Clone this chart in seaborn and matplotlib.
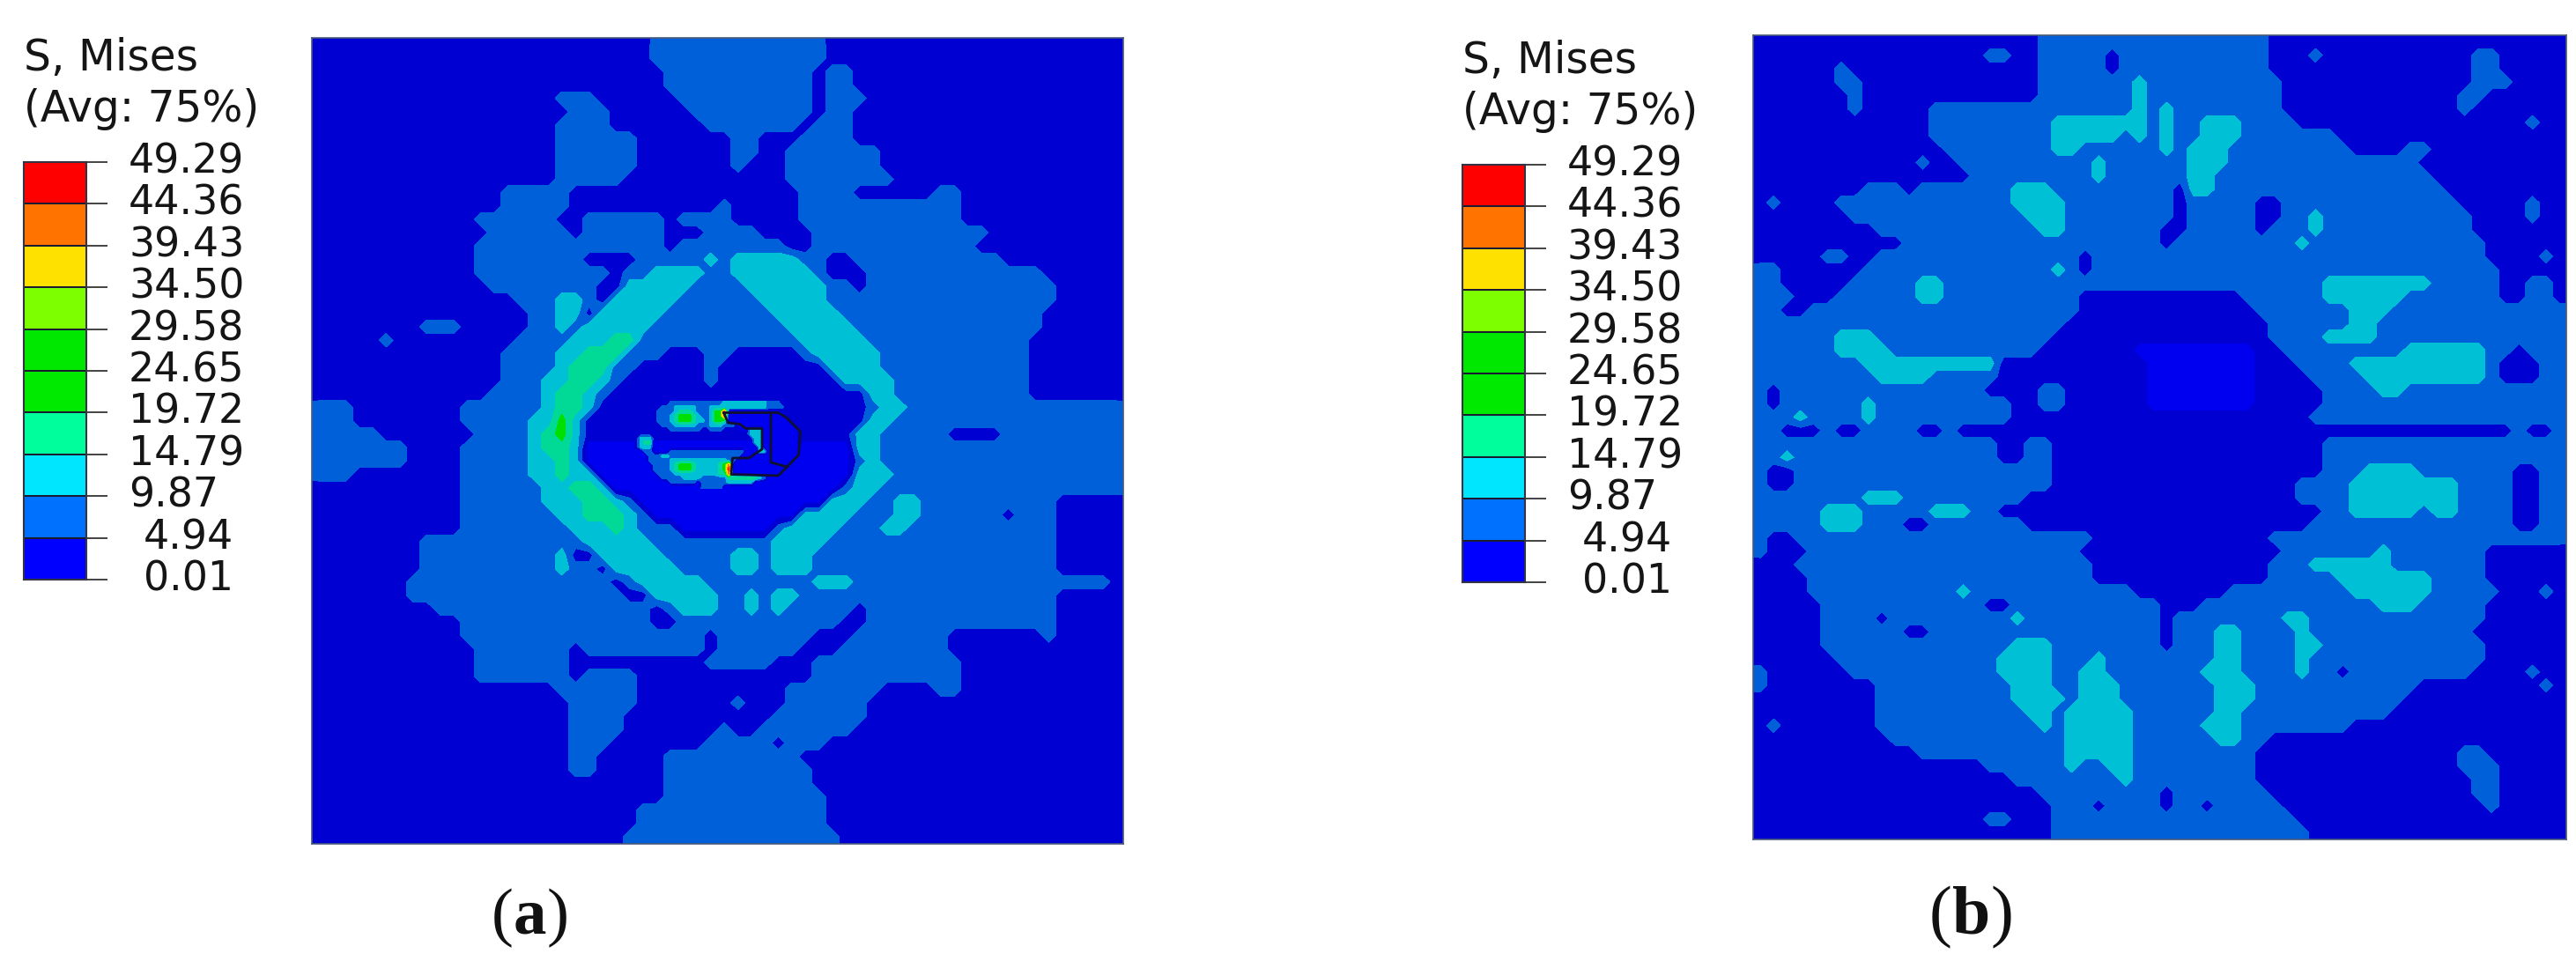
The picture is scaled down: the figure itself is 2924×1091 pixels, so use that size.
import matplotlib
matplotlib.use("Agg")
import matplotlib.pyplot as plt
import numpy as np
import seaborn as sns
from matplotlib.colors import ListedColormap

W, H = 2924, 1091

# legend of the stress field
LEVEL_LABELS = ["49.29", "44.36", "39.43", "34.50", "29.58", "24.65",
                "19.72", "14.79", "9.87", "4.94", "0.01"]
LABEL_INDENT = [0, 0, 0, 0, 0, 0, 0, 0, 0, 17, 17]
LEGEND_COLORS = ["#ff0000", "#ff7300", "#ffe100", "#7dff00", "#00e800",
                 "#00ea00", "#00ff9c", "#00e6ff", "#0070ff", "#0000ff"]

# colour of each band in the field, 9 is the bright blue inner zone
FIELD_COLORS = ["#0000d2", "#0060da", "#00c0d6", "#00da96", "#00e000",
                "#80e000", "#ffe100", "#ff7300", "#ff0000", "#0000f0"]

# contour bands, run length per row ("cells:band")
FIELD_A = [
    "25:0 13:1", "25:0 13:1", "26:0 11:1 1:0 2:1", "26:0 11:1 1:0 2:1",
    "18:0 3:1 6:0 10:1 1:0 3:1", "19:0 3:1 6:0 9:1 1:0 2:1",
    "18:0 4:1 7:0 7:1 1:0 3:1", "18:0 6:1 7:0 2:1 3:0 4:1",
    "18:0 6:1 7:0 2:1 2:0 7:1", "18:0 6:1 7:0 1:1 3:0 7:1",
    "18:0 5:1 12:0 8:1", "14:0 5:1 17:0 4:1 6:0 2:1",
    "14:0 5:1 11:0 1:1 5:0 12:1", "12:0 6:1 2:0 6:1 1:0 4:1 5:0 12:1",
    "13:0 6:1 1:0 6:1 3:0 4:1 4:0 13:1", "12:0 14:1 1:0 8:1 2:0 12:1",
    "12:0 8:1 4:0 5:1 1:2 1:1 5:2 2:1 2:0 11:1",
    "12:0 10:1 1:0 2:1 4:2 2:1 6:2 1:1 3:0 13:1",
    "13:0 8:1 2:0 5:2 4:1 6:2 2:1 1:0 14:1",
    "15:0 3:1 2:2 1:1 1:0 5:2 6:1 5:2 17:1",
    "16:0 2:1 2:2 1:0 5:2 8:1 5:2 15:1",
    "8:0 3:1 5:0 2:1 1:2 1:1 5:2 10:1 5:2 14:1",
    "5:0 1:1 9:0 4:1 3:2 2:3 12:1 5:2 12:1",
    "14:0 4:1 2:2 3:3 3:1 3:0 2:1 5:0 1:1 5:2 11:1",
    "14:0 4:1 1:2 3:3 2:1 5:0 1:1 8:0 4:2 11:1",
    "14:0 3:1 2:2 2:3 1:2 1:1 6:0 1:1 9:0 4:2 10:1",
    "13:0 4:1 1:2 2:3 1:2 1:1 19:0 2:2 10:1",
    "3:1 8:0 6:1 1:2 2:3 1:2 20:0 1:1 2:2 16:1",
    "3:1 8:0 5:1 2:2 1:4 1:2 21:0 2:2 17:1",
    "5:1 7:0 4:1 1:2 1:3 1:4 1:2 20:0 2:2 5:1 4:0 9:1",
    "7:1 4:0 5:1 1:2 2:3 1:2 20:9 2:2 18:1",
    "7:1 4:0 5:1 2:2 1:3 1:2 20:9 1:1 1:2 18:1",
    "3:1 8:0 5:1 2:2 1:3 2:2 19:9 3:2 17:1",
    "11:0 6:1 2:2 2:3 1:2 17:9 1:1 2:2 18:1",
    "11:0 6:1 3:2 2:3 1:2 1:1 14:9 3:2 2:1 2:2 10:1",
    "11:0 7:1 2:2 3:3 1:2 1:1 11:9 4:2 3:1 2:2 6:1 1:0 3:1",
    "11:0 8:1 3:2 1:3 1:2 3:1 7:9 1:1 4:2 3:1 2:2 11:1",
    "8:0 12:1 5:2 9:1 4:2 17:1",
    "8:0 10:1 1:2 2:0 5:2 5:1 2:2 1:1 3:2 18:1",
    "8:0 10:1 1:2 2:1 1:0 5:2 4:1 2:2 1:1 3:2 18:1",
    "7:0 15:1 1:0 1:1 5:2 8:1 3:2 19:1",
    "7:0 16:1 2:0 5:2 2:1 1:2 1:1 2:2 19:1",
    "9:0 16:1 1:0 1:1 3:2 2:1 1:2 1:1 1:2 5:1 1:0 14:1",
    "11:0 14:1 2:0 12:1 2:0 14:1",
    "11:0 18:1 1:0 7:1 3:0 7:1 7:0 1:1",
    "12:0 7:1 1:0 9:1 1:0 6:1 3:0 8:1",
    "12:0 7:1 10:0 5:1 3:0 11:1", "12:0 7:1 1:0 4:1 13:0 11:1",
    "18:0 6:1 11:0 7:1 4:0 2:1", "19:0 5:1 7:0 1:1 3:0 6:1",
    "19:0 4:1 11:0 7:1", "19:0 4:1 7:0 1:1 2:0 7:1",
    "19:0 3:1 7:0 5:1 1:0 3:1", "19:0 2:1 5:0 10:1", "19:0 2:1 5:0 11:1",
    "26:0 11:1", "26:0 12:1", "24:0 14:1", "24:0 14:1", "23:0 16:1",
]

FIELD_B = [
    "21:0 17:1", "17:0 2:1 2:0 5:1 1:0 11:1 3:0 1:1 11:0 2:1",
    "6:0 1:1 14:0 5:1 1:0 11:1 15:0 2:1",
    "6:0 2:1 13:0 7:1 1:2 10:1 14:0 3:1",
    "7:0 1:1 13:0 7:1 1:2 10:1 13:0 2:1",
    "7:0 1:1 5:0 15:1 1:2 1:1 1:2 8:1 13:0 1:1",
    "13:0 9:1 7:2 1:1 1:2 2:1 3:2 4:1 17:0 1:1",
    "13:0 9:1 5:2 1:1 1:2 1:1 1:2 2:1 3:2 7:1",
    "14:0 8:1 2:2 6:1 1:2 1:1 3:2 9:1 4:0 2:1",
    "12:0 1:1 2:0 10:1 1:2 6:1 3:2 14:1",
    "16:0 9:1 1:2 6:1 2:2 16:1",
    "8:0 3:1 1:0 7:1 3:2 9:1 1:0 2:2 17:1",
    "1:0 1:1 4:0 13:1 4:2 8:1 1:0 5:1 2:0 13:1 5:0 1:1",
    "7:0 13:1 3:2 8:1 1:0 5:1 2:0 2:1 1:2 11:1 4:0 1:1",
    "9:0 12:1 2:2 7:1 2:0 5:1 1:0 3:1 1:2 11:1",
    "11:0 19:1 1:0 9:1 1:2 13:1",
    "5:0 2:1 2:0 15:1 1:0 29:1 4:0 1:1",
    "2:1 6:0 14:1 1:2 1:1 1:0 30:1",
    "2:1 5:0 5:1 2:2 28:1 8:2 5:1 2:0 2:1",
    "3:1 3:0 6:1 2:2 10:1 12:0 6:1 6:2 7:1 2:0 2:1",
    "2:1 2:0 20:1 13:0 7:1 3:2 13:1",
    "23:1 15:0 6:1 2:2 14:1",
    "6:1 3:2 13:1 16:0 4:1 4:2 14:1",
    "6:1 4:2 11:1 7:0 9:9 2:0 9:1 6:2 2:1 1:0 3:1",
    "8:1 10:2 11:0 8:9 3:0 4:1 10:2 1:1 3:0 2:1",
    "9:1 4:2 5:1 11:0 8:9 4:0 4:1 9:2 1:1 3:0 2:1",
    "1:1 1:0 15:1 4:0 2:1 6:0 8:9 5:0 4:1 2:2 12:1",
    "1:1 1:0 6:1 1:2 10:1 2:0 2:1 6:0 8:9 5:0 18:1",
    "3:1 1:2 4:1 1:2 10:1 22:0 19:1",
    "2:1 3:0 1:1 2:0 4:1 2:0 1:1 41:0 1:1 2:0 1:1",
    "18:1 2:0 2:1 20:0 18:1",
    "2:1 1:2 15:1 2:0 2:1 20:0 18:1",
    "1:1 2:0 19:1 20:0 3:1 4:2 7:1 2:0 2:1",
    "1:1 2:0 19:1 18:0 4:1 8:2 4:1 2:0 2:1",
    "8:1 3:2 9:1 20:0 4:1 8:2 4:1 2:0 2:1",
    "5:1 3:2 5:1 3:2 2:1 24:0 2:1 5:2 1:1 2:2 4:1 2:0 2:1",
    "5:1 3:2 3:1 2:0 7:1 21:0 15:1 2:0 2:1",
    "1:1 2:0 22:1 13:0 22:1",
    "1:1 3:0 20:1 15:0 7:1 1:2 7:1",
    "3:0 22:1 13:0 3:1 6:2 7:1",
    "4:0 21:1 13:0 5:1 7:2 4:1",
    "4:0 11:1 1:2 12:1 7:0 9:1 6:2 5:1 3:0 1:1",
    "5:0 12:1 2:0 11:1 3:0 13:1 3:2 5:1",
    "5:0 4:1 1:0 9:1 1:2 10:1 1:0 8:1 2:2 13:1",
    "5:0 6:1 2:0 17:1 1:0 3:1 2:2 4:1 1:2 12:1",
    "5:0 14:1 3:2 8:1 1:0 3:1 2:2 4:1 2:2 12:1",
    "6:0 12:1 4:2 3:1 1:2 8:1 2:2 4:1 1:2 13:1",
    "1:1 6:0 11:1 4:2 2:1 2:2 7:1 3:2 4:1 1:2 2:1 1:0 9:1 4:0 1:1",
    "1:1 8:0 10:1 3:2 2:1 3:2 7:1 3:2 12:1 9:0 1:1",
    "9:0 10:1 4:2 1:1 3:2 7:1 3:2 11:1",
    "9:0 11:1 2:2 1:1 5:2 6:1 2:2 11:1",
    "1:0 1:1 7:0 12:1 1:2 1:1 5:2 5:1 3:2 8:1",
    "10:0 13:1 5:2 6:1 2:2 2:1",
    "12:0 11:1 5:2 9:1 15:0 2:1",
    "17:0 6:1 1:2 2:1 2:2 9:1 15:0 3:1",
    "19:0 8:1 1:2 9:1 16:0 2:1",
    "21:0 9:1 1:0 7:1 15:0 2:1",
    "22:0 3:1 1:0 4:1 1:0 2:1 1:0 5:1 15:0 1:1",
    "17:0 2:1 3:0 18:1", "22:0 19:1",
]

# finer grid around the contact zone of panel (a)
CONTACT_ZONE = [
    "8:0 9:1 3:1 10:2 3:1 5:0", "6:0 3:1 5:2 3:1 3:2 10:2 4:1 4:0",
    "5:0 4:1 1:2 3:3 1:2 3:1 1:2 2:4 1:8 13:9 4:0",
    "5:0 3:1 1:2 1:3 3:4 1:3 1:2 2:1 1:2 2:4 1:7 13:9 4:0",
    "5:0 3:1 1:2 1:3 3:4 1:3 2:2 1:1 1:2 2:4 1:3 14:9 3:0",
    "6:0 3:1 5:2 3:1 3:2 3:1 13:9 2:0",
    "8:0 7:1 2:0 3:1 4:0 2:9 3:2 8:9 1:0",
    "26:0 3:2 8:9 1:0", "1:0 3:2 23:0 2:2 8:9 1:0",
    "1:0 1:2 2:3 23:9 2:2 8:9 1:0", "1:0 3:2 24:9 1:2 9:9",
    "2:9 2:1 4:9 17:1 3:9 2:2 8:9", "3:9 3:1 2:2 16:1 14:9",
    "3:9 5:1 13:2 2:1 15:9",
    "4:9 4:1 1:2 1:3 3:4 1:3 5:2 1:3 1:4 1:7 16:9",
    "4:9 4:1 1:2 1:3 3:4 1:3 5:2 1:3 1:4 1:8 16:9",
    "5:9 4:1 10:2 2:3 1:7 16:9",
    "6:9 5:1 4:2 6:1 7:3 1:2 1:1 8:9",
    "8:9 6:1 1:9 6:1 6:2 11:9", "15:9 5:1 18:9",
]

# outline of the tool, in cells of CONTACT_ZONE
TOOL_COL = [20.3, 32.7, 34.5, 37.7, 37.3, 34.7, 32.7, 22, 22.3, 26, 29, 29,
            25.3, 24, 21.3, 20.3]
TOOL_ROW = [2.7, 2.7, 3.8, 7, 12.3, 15, 17, 16.7, 13, 13, 11, 6.3, 6.3, 5.3,
            5, 2.7]
EDGE_COL = [31, 31, 34.7]
EDGE_ROW = [3, 14, 15]

# band 9 sorts below band 0 so contours run bright blue -> dark blue -> blue ...
BAND_ORDER = [9, 0, 1, 2, 3, 4, 5, 6, 7, 8]


def decode(rows, width):
    grid = []
    for row in rows:
        cells = []
        for part in row.split():
            count, band = part.split(":")
            cells += [int(band)] * int(count)
        cells = (cells + [0] * width)[:width]
        grid.append(cells)
    grid = np.array(grid)
    return np.where(grid == 9, -1, grid)


def add_axes(fig, left, top, right, bottom):
    return fig.add_axes([left / W, 1 - bottom / H, (right - left) / W, (bottom - top) / H])


def put_text(fig, x, y, s, **kw):
    fig.text(x / W, 1 - y / H, s, **kw)


def draw_bands(ax, grid):
    # heatmap holds the axes and the half cell margin, contours round off the cell steps
    colors = [FIELD_COLORS[b] for b in BAND_ORDER]
    sns.heatmap(grid, cmap=ListedColormap(colors), vmin=-1, vmax=8, cbar=False,
                xticklabels=False, yticklabels=False, ax=ax)
    cols = np.arange(grid.shape[1]) + 0.5
    rows = np.arange(grid.shape[0]) + 0.5
    ax.contourf(cols, rows, grid, levels=np.arange(-1.5, 9), colors=colors)


def draw_field(fig, rows, box):
    ax = add_axes(fig, *box)
    draw_bands(ax, decode(rows, 60))
    for spine in ax.spines.values():
        spine.set_visible(True)
        spine.set_color("#4a5a7a")
        spine.set_linewidth(1.2)
    return ax


def draw_legend(fig, dx, dy):
    put_text(fig, 27 + dx, 66 + dy, "S, Mises", fontsize=35, va="center", color="#151515")
    put_text(fig, 27 + dx, 124 + dy, "(Avg: 75%)", fontsize=35, va="center", color="#151515")

    ax = add_axes(fig, 27 + dx, 184 + dy, 98 + dx, 658 + dy)
    values = np.arange(10).reshape(-1, 1)
    sns.heatmap(values, cmap=ListedColormap(LEGEND_COLORS), cbar=False, linewidths=1.2,
                linecolor="#1a1a30", xticklabels=False, yticklabels=False, ax=ax)
    for spine in ax.spines.values():
        spine.set_visible(True)
        spine.set_color("#333344")
        spine.set_linewidth(1.5)
    ax.yaxis.tick_right()
    ax.set_yticks(np.arange(11))
    ax.set_yticklabels([])
    ax.tick_params(axis="y", length=17, width=1.2, color="#222222")

    step = (658 - 184) / 10
    for i, label in enumerate(LEVEL_LABELS):
        put_text(fig, 146 + dx + LABEL_INDENT[i], 184 + dy + i * step, label,
                 fontsize=33, va="center", color="#151515")


def draw_caption(fig, x, letter, size):
    px = size * 100 / 72
    serif = dict(fontsize=size, family="Liberation Serif", va="baseline", color="#111111")
    put_text(fig, x, 1060, "(", **serif)
    put_text(fig, x + 0.333 * px, 1060, letter, fontweight="bold", **serif)
    width = 0.5 if letter == "a" else 0.556
    put_text(fig, x + (0.333 + width) * px, 1060, ")", **serif)


sns.set_theme(style="white")
plt.rcParams["font.family"] = ["DejaVu Sans"]

fig = plt.figure(figsize=(W / 100, H / 100), dpi=100, facecolor="white")

draw_field(fig, FIELD_A, (354, 43, 1275, 958))
draw_field(fig, FIELD_B, (1990, 40, 2913, 953))

inset = add_axes(fig, 720, 455, 910, 555)
draw_bands(inset, decode(CONTACT_ZONE, 38))
inset.plot(TOOL_COL, TOOL_ROW, color="#101030", lw=2)
inset.plot(EDGE_COL, EDGE_ROW, color="#101030", lw=2)

draw_legend(fig, 0, 0)
draw_legend(fig, 1633, 3)

draw_caption(fig, 558, "a", 54)
draw_caption(fig, 2190, "b", 56)

fig.savefig("out.png", dpi=100)
